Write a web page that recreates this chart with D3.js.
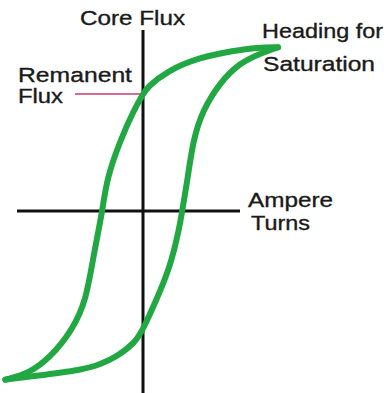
<!DOCTYPE html>
<html>
<head>
<meta charset="utf-8">
<script src="https://cdn.jsdelivr.net/npm/d3@7"></script>
<style>
  html, body { margin: 0; padding: 0; background: #fff; }
  svg { display: block; }
  .lbl { font-family: "Liberation Sans", Arial, sans-serif; font-size: 20.5px; fill: #1a1a1a; stroke: #1a1a1a; stroke-width: 0.35px; }
</style>
</head>
<body>
<svg id="chart"></svg>
<script>
// descending branch: saturation (top right) down to negative saturation
var upperX = [10, 8.5, 6.7, 4.2, 1.8, 0.3, 0, -0.7, -1.7, -2.7, -3.0, -3.7, -4.2, -5.2, -6.9, -8.4, -10.2];
var upperY = [9.8, 9.8, 9.6, 9.2, 8.4, 7.4, 7.0, 6.0, 4.2, 1.9, 0, -2.8, -5.3, -7.1, -8.8, -9.7, -10.1];

// ascending branch: negative saturation back up to saturation
var lowerX = [-10.2, -8.2, -4.4, -3.2, -1.9, -0.6, 0, 1.0, 2.0, 2.7, 2.9, 3.3, 3.7, 4.4, 5.7, 7.2, 8.9, 10];
var lowerY = [-10.1, -9.9, -9.5, -9.2, -8.7, -7.9, -7.1, -5.3, -3.4, -1.0, 0, 1.9, 4.2, 6.0, 7.7, 8.9, 9.5, 9.8];

var remanentFlux = 7.0;

var axisLabels = ['Core Flux', 'Ampere', 'Turns'];
var noteLabels = ['Remanent', 'Flux', 'Heading for', 'Saturation'];

var width = 391,
    height = 393;

var svg = d3.select('#chart')
    .attr('width', width)
    .attr('height', height);

var x = d3.scaleLinear().domain([-10, 10]).range([8, 278]);
var y = d3.scaleLinear().domain([-10, 10]).range([378, 44]);

// axes
svg.append('line')
    .attr('x1', x(0)).attr('x2', x(0))
    .attr('y1', 30).attr('y2', height)
    .attr('stroke', '#111').attr('stroke-width', 3);

svg.append('line')
    .attr('x1', 17).attr('x2', 240)
    .attr('y1', y(0)).attr('y2', y(0))
    .attr('stroke', '#111').attr('stroke-width', 3);

// remanent flux marker
svg.append('line')
    .attr('x1', 75).attr('x2', x(0))
    .attr('y1', y(remanentFlux)).attr('y2', y(remanentFlux))
    .attr('stroke', '#cf3a6a').attr('stroke-width', 1.5);

var line = d3.line()
    .x(function(d) { return x(d[0]) })
    .y(function(d) { return y(d[1]) })
    .curve(d3.curveBasis);

var branches = [d3.zip(upperX, upperY), d3.zip(lowerX, lowerY)];

svg.selectAll('path.loop')
    .data(branches)
    .enter().append('path')
    .attr('class', 'loop')
    .attr('d', line)
    .attr('fill', 'none')
    .attr('stroke', '#21a843')
    .attr('stroke-width', 6)
    .attr('stroke-linecap', 'round')
    .attr('stroke-linejoin', 'round');

// labels
var labelPos = [
  {t: axisLabels[0], x: 80,  y: 25,  w: 105},
  {t: axisLabels[1], x: 248, y: 207, w: 85},
  {t: axisLabels[2], x: 251, y: 230, w: 59},
  {t: noteLabels[0], x: 18,  y: 82,  w: 114},
  {t: noteLabels[1], x: 18,  y: 103, w: 45},
  {t: noteLabels[2], x: 262, y: 38,  w: 121},
  {t: noteLabels[3], x: 263, y: 71,  w: 112}
];

svg.selectAll('text.lbl')
    .data(labelPos)
    .enter().append('text')
    .attr('class', 'lbl')
    .attr('x', function(d) { return d.x })
    .attr('y', function(d) { return d.y })
    .attr('textLength', function(d) { return d.w })
    .attr('lengthAdjust', 'spacingAndGlyphs')
    .text(function(d) { return d.t });
</script>
</body>
</html>
